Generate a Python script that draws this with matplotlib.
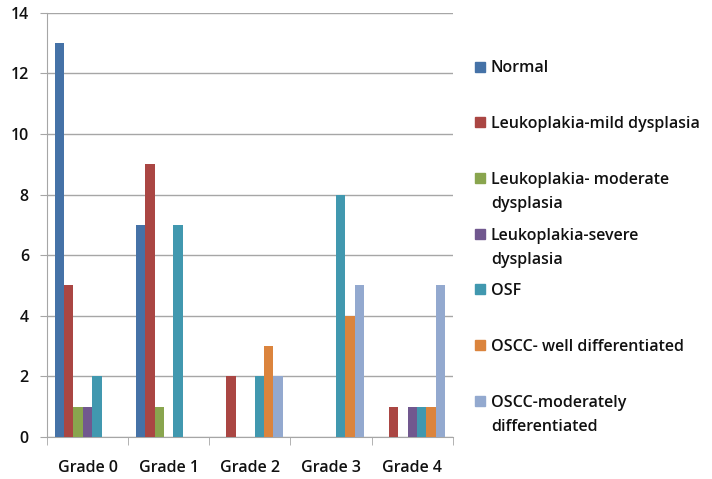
import numpy as np
import matplotlib.pyplot as plt
from matplotlib.patches import Rectangle

grades = ["Grade 0", "Grade 1", "Grade 2", "Grade 3", "Grade 4"]
series_names = [
    "Normal",
    "Leukoplakia-mild dysplasia",
    "Leukoplakia- moderate\ndysplasia",
    "Leukoplakia-severe\ndysplasia",
    "OSF",
    "OSCC- well differentiated",
    "OSCC-moderately\ndifferentiated",
]
normal = [13, 7, 0, 0, 0]
leuko_mild = [5, 9, 2, 0, 1]
leuko_moderate = [1, 1, 0, 0, 0]
leuko_severe = [1, 0, 0, 0, 1]
osf = [2, 7, 2, 8, 1]
oscc_well = [0, 0, 3, 4, 1]
oscc_moderate = [0, 0, 2, 5, 5]
yticks = [0, 2, 4, 6, 8, 10, 12, 14]

colors = ["#4572A7", "#AA4643", "#89A54E", "#71588F", "#4198AF", "#DB843D", "#93A9CF"]
all_series = [normal, leuko_mild, leuko_moderate, leuko_severe, osf, oscc_well, oscc_moderate]

plt.rcParams['font.family'] = ['Open Sans', 'DejaVu Sans']
plt.rcParams['font.weight'] = 'semibold'

fig = plt.figure(figsize=(7.12, 4.79), dpi=100)
ax = fig.add_axes([0.066, 0.088, 0.570, 0.885])

x = np.arange(len(grades))
w = 0.116
for i, (vals, c) in enumerate(zip(all_series, colors)):
    ax.bar(x + (i - 3) * w, vals, width=w, color=c, zorder=3)

ax.set_xlim(-0.5, len(grades) - 0.5)
ax.set_ylim(0, 14)
ax.set_yticks(yticks)
ax.grid(axis='y', color='#a6a6a6', linewidth=1, zorder=0)
ax.set_xticks(x)
ax.set_xticklabels(grades, fontsize=11.5, color='#111111')
ax.set_xticks(np.arange(len(grades) + 1) - 0.5, minor=True)
ax.tick_params(axis='x', which='major', length=0, pad=17)
ax.tick_params(axis='x', which='minor', length=6, color='#a6a6a6')
ax.tick_params(axis='y', length=5, color='#a6a6a6', labelsize=11.5, labelcolor='#111111', pad=8)
for s in ['top', 'right']:
    ax.spines[s].set_visible(False)
for s in ['left', 'bottom']:
    ax.spines[s].set_color('#a6a6a6')

# legend drawn by hand to match the spacing
top = 479 - 66.5
for i, (name, c) in enumerate(zip(series_names, colors)):
    yc = (top - i * 55.7) / 479
    fig.add_artist(Rectangle((475 / 712, yc - 5 / 479), 10 / 712, 10 / 479,
                             transform=fig.transFigure, color=c))
    fig.text(491 / 712, yc + 6 / 479, name, fontsize=11.5, color='#111111',
             va='top', ha='left', linespacing=1.7)

fig.savefig('out.png', dpi=100)
